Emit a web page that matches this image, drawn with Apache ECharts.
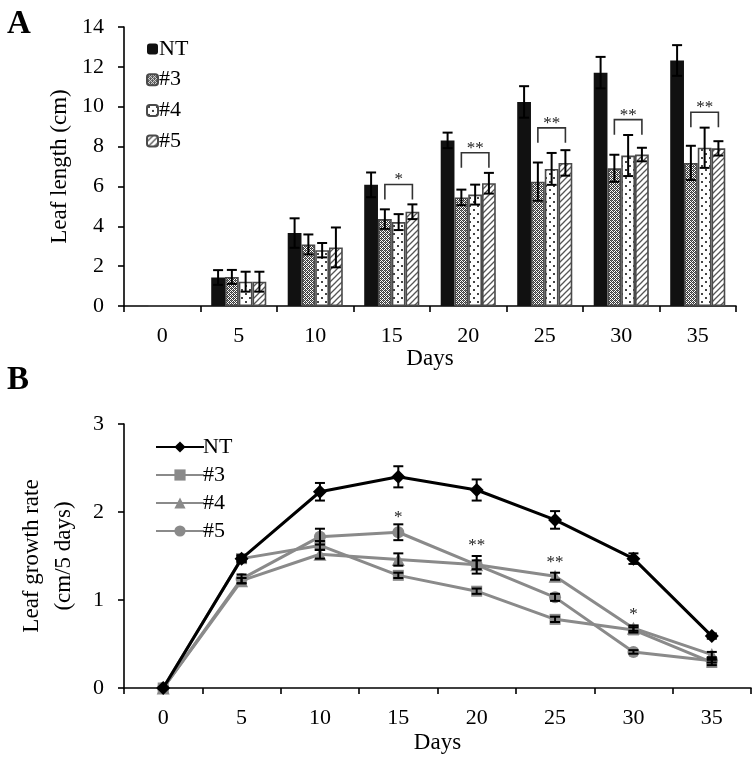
<!DOCTYPE html>
<html>
<head>
<meta charset="utf-8">
<script src="https://cdn.jsdelivr.net/npm/echarts@6/dist/echarts.min.js"></script>
<style>
html,body{margin:0;padding:0;background:#fff;}
#chart{width:755px;height:759px;}
</style>
</head>
<body>
<div id="chart"></div>
<script>
// ---------- data ----------
const days = ['0','5','10','15','20','25','30','35'];
const seriesNames = ['NT','#3','#4','#5'];

// Panel A: leaf length (cm)
const lenNT   = [0, 1.43, 3.66, 6.08, 8.31, 10.24, 11.71, 12.32];
const lenNTsd = [0, 0.37, 0.74, 0.62, 0.39, 0.79, 0.79, 0.77];
const len3    = [0, 1.46, 3.09, 4.36, 5.45, 6.24, 6.91, 7.18];
const len3sd  = [0, 0.35, 0.50, 0.49, 0.39, 0.96, 0.68, 0.86];
const len4    = [0, 1.22, 2.80, 4.21, 5.59, 6.88, 7.55, 7.94];
const len4sd  = [0, 0.50, 0.36, 0.40, 0.50, 0.80, 1.03, 1.01];
const len5    = [0, 1.22, 2.94, 4.73, 6.16, 7.18, 7.60, 7.91];
const len5sd  = [0, 0.50, 1.00, 0.37, 0.52, 0.64, 0.34, 0.36];
const sigDaysA = ['15','20','25','30','35'];
const sigTopA  = [6.10, 7.69, 8.94, 9.35, 9.72];
const sigTextA = ['*','**','**','**','**'];
const yTicksA = [0, 14, 2]; // min, max, interval

// Panel B: leaf growth rate (cm/5 days)
const rateNT   = [0, 1.47, 2.23, 2.40, 2.25, 1.91, 1.47, 0.59];
const rateNTsd = [0, 0.04, 0.10, 0.12, 0.12, 0.10, 0.06, 0.03];
const rate3    = [0, 1.47, 1.62, 1.28, 1.10, 0.78, 0.66, 0.29];
const rate3sd  = [0, 0.03, 0.05, 0.03, 0.03, 0.03, 0.03, 0.03];
const rate4    = [0, 1.22, 1.52, 1.46, 1.40, 1.27, 0.68, 0.38];
const rate4sd  = [0, 0.03, 0.05, 0.07, 0.05, 0.04, 0.03, 0.03];
const rate5    = [0, 1.24, 1.72, 1.77, 1.40, 1.03, 0.41, 0.31];
const rate5sd  = [0, 0.05, 0.09, 0.09, 0.10, 0.04, 0.02, 0.02];
const sigDaysB = ['15','20','25','30'];
const sigPosB  = [1.98, 1.66, 1.46, 0.87];
const sigTextB = ['*','**','**','*'];
const yTicksB = [0, 3, 1];

// ---------- patterns ----------
function makePattern(kind){
  const c = document.createElement('canvas');
  const ctx = c.getContext('2d');
  if(kind==='checker'){
    c.width=4;c.height=4;
    ctx.fillStyle='#ffffff';ctx.fillRect(0,0,4,4);
    ctx.fillStyle='#3a3a3a';
    for(let y=0;y<4;y++)for(let x=0;x<4;x++){ if((x+y)%2===0) ctx.fillRect(x,y,1,1); }
    ctx.fillStyle='#777';ctx.fillRect(1,2,1,1);ctx.fillRect(3,0,1,1);
  } else if(kind==='dots'){
    c.width=8;c.height=8;
    ctx.fillStyle='#ffffff';ctx.fillRect(0,0,8,8);
    ctx.fillStyle='#444';
    ctx.fillRect(1,1,2,2);ctx.fillRect(5,5,2,2);
  } else if(kind==='diag'){
    c.width=6;c.height=6;
    ctx.fillStyle='#ffffff';ctx.fillRect(0,0,6,6);
    ctx.strokeStyle='#555';ctx.lineWidth=1.3;
    ctx.beginPath();
    ctx.moveTo(-1,7);ctx.lineTo(7,-1);
    ctx.moveTo(-4,4);ctx.lineTo(4,-4);
    ctx.moveTo(2,10);ctx.lineTo(10,2);
    ctx.stroke();
  }
  return {image:c, repeat:'repeat'};
}
const fillsA = ['#111111', makePattern('checker'), makePattern('dots'), makePattern('diag')];
const bordersA = ['#111111','#4a4a4a','#4a4a4a','#4a4a4a'];

const FONT = 'Liberation Serif';
const BAR_W = 0.18;
const GREY = '#8a8a8a';

// ---------- helpers ----------
function errData(vals, sds){
  return vals.map((v,i)=>[i, v, sds[i]]).filter(d=>d[1]>0);
}
function errRender(offsetFrac, cap){
  return function(params, api){
    const idx = api.value(0), v = api.value(1), sd = api.value(2);
    const bw = api.size([1,0])[0];
    const x = api.coord([idx, v])[0] + offsetFrac*bw;
    const yt = api.coord([idx, v+sd])[1];
    const yb = api.coord([idx, v-sd])[1];
    const st = {stroke:'#000', lineWidth:2, fill:null};
    return {type:'group', children:[
      {type:'line', shape:{x1:x,y1:yt,x2:x,y2:yb}, style:st},
      {type:'line', shape:{x1:x-cap,y1:yt,x2:x+cap,y2:yt}, style:st},
      {type:'line', shape:{x1:x-cap,y1:yb,x2:x+cap,y2:yb}, style:st}
    ]};
  };
}

const lenVals = [lenNT,len3,len4,len5];
const lenSds = [lenNTsd,len3sd,len4sd,len5sd];
const rateVals = [rateNT,rate3,rate4,rate5];
const rateSds = [rateNTsd,rate3sd,rate4sd,rate5sd];
const lineSymbols = ['diamond','rect','triangle','circle'];
const lineSymSize = [14,11,13,12];
const lineColors = ['#000000',GREY,GREY,GREY];

const series = [];
// Panel A bars
seriesNames.forEach((n,i)=>{
  series.push({
    name:n, type:'bar', xAxisIndex:0, yAxisIndex:0,
    data: lenVals[i], barWidth: (BAR_W*100)+'%', barGap:'0%',
    itemStyle:{color:fillsA[i], borderColor:bordersA[i], borderWidth: i===0?0:1.6},
    z:2
  });
});
// Panel A error bars
seriesNames.forEach((n,i)=>{
  series.push({
    type:'custom', xAxisIndex:0, yAxisIndex:0, z:5,
    data: errData(lenVals[i], lenSds[i]),
    renderItem: errRender((i-1.5)*BAR_W, 5),
    silent:true
  });
});
// Panel A significance brackets
series.push({
  type:'custom', xAxisIndex:0, yAxisIndex:0, z:6, silent:true,
  data: sigDaysA.map((d,i)=>[days.indexOf(d), sigTopA[i]]),
  renderItem: function(params, api){
    const idx = api.value(0), top = api.value(1);
    const txt = sigTextA[params.dataIndex];
    const bw = api.size([1,0])[0];
    const cx = api.coord([idx, top])[0];
    const y = api.coord([idx, top])[1];
    const x3 = cx + (-0.5)*BAR_W*bw, x5 = cx + 1.5*BAR_W*bw;
    return {type:'group', children:[
      {type:'polyline', shape:{points:[[x3,y+15],[x3,y],[x5,y],[x5,y+15]]},
       style:{stroke:'#333', lineWidth:1.6, fill:null}},
      {type:'text', style:{text:txt, x:(x3+x5)/2, y:y-13, align:'center', verticalAlign:'top',
        font:'17px "'+FONT+'"', fill:'#222'}}
    ]};
  }
});
// Panel B lines
seriesNames.forEach((n,i)=>{
  series.push({
    name:'B-'+n, type:'line', xAxisIndex:1, yAxisIndex:1,
    data: rateVals[i], symbol: lineSymbols[i], symbolSize: lineSymSize[i],
    lineStyle:{color:lineColors[i], width:3},
    itemStyle:{color:lineColors[i]},
    z: i===0?4:3 - i*0.1
  });
});
// Panel B error bars
seriesNames.forEach((n,i)=>{
  series.push({
    type:'custom', xAxisIndex:1, yAxisIndex:1, z:5, silent:true,
    data: errData(rateVals[i], rateSds[i]),
    renderItem: errRender(0, 5)
  });
});
// Panel B significance stars
series.push({
  type:'custom', xAxisIndex:1, yAxisIndex:1, z:6, silent:true,
  data: sigDaysB.map((d,i)=>[days.indexOf(d), sigPosB[i]]),
  renderItem: function(params, api){
    const p = api.coord([api.value(0), api.value(1)]);
    return {type:'text', style:{text:sigTextB[params.dataIndex], x:p[0], y:p[1]-5, align:'center',
      verticalAlign:'top', font:'17px "'+FONT+'"', fill:'#222'}};
  }
});

const axisLineStyle = {color:'#000', width:1.6};
const labelStyle = {fontFamily:FONT, fontSize:22, color:'#000'};

const option = {
  animation:false,
  backgroundColor:'#fff',
  textStyle:{fontFamily:FONT},
  title:[
    {text:'A', left:2, top:3, textStyle:{fontFamily:FONT, fontSize:33, fontWeight:'bold', color:'#000'}},
    {text:'B', left:2, top:359, textStyle:{fontFamily:FONT, fontSize:33, fontWeight:'bold', color:'#000'}}
  ],
  legend:[
    {data:seriesNames, orient:'vertical', left:141, top:33, itemWidth:11, itemHeight:11, itemGap:8.7,
     textStyle:{fontFamily:FONT, fontSize:22, color:'#000', padding:[0,0,0,-4]}, selectedMode:false},
    {data:seriesNames.map(n=>'B-'+n), orient:'vertical', left:150, top:431, itemWidth:48, itemHeight:14, itemGap:6,
     formatter: n=>n.replace('B-',''),
     textStyle:{fontFamily:FONT, fontSize:22, color:'#000', padding:[0,0,0,-6]}, selectedMode:false}
  ],
  grid:[
    {left:124, top:27, width:612, height:279},
    {left:124, top:424, width:627, height:264}
  ],
  xAxis:[
    {type:'category', gridIndex:0, data:days,
     axisLine:{lineStyle:axisLineStyle}, axisTick:{show:true, length:6, lineStyle:axisLineStyle},
     axisLabel:{...labelStyle, margin:19},
     name:'Days', nameLocation:'middle', nameGap:37,
     nameTextStyle:{fontFamily:FONT, fontSize:23, color:'#000'}},
    {type:'category', gridIndex:1, data:days,
     axisLine:{lineStyle:axisLineStyle}, axisTick:{show:true, length:6, lineStyle:axisLineStyle},
     axisLabel:{...labelStyle, margin:19},
     name:'Days', nameLocation:'middle', nameGap:43,
     nameTextStyle:{fontFamily:FONT, fontSize:23, color:'#000'}}
  ],
  yAxis:[
    {type:'value', gridIndex:0, min:yTicksA[0], max:yTicksA[1], interval:yTicksA[2],
     axisLine:{show:true, lineStyle:axisLineStyle}, axisTick:{show:true, length:6, lineStyle:axisLineStyle},
     splitLine:{show:false}, axisLabel:{...labelStyle, margin:20},
     name:'Leaf length (cm)', nameLocation:'middle', nameGap:53,
     nameTextStyle:{fontFamily:FONT, fontSize:23, color:'#000'}},
    {type:'value', gridIndex:1, min:yTicksB[0], max:yTicksB[1], interval:yTicksB[2],
     axisLine:{show:true, lineStyle:axisLineStyle}, axisTick:{show:true, length:6, lineStyle:axisLineStyle},
     splitLine:{show:false}, axisLabel:{...labelStyle, margin:20},
     name:'Leaf growth rate\n(cm/5 days)', nameLocation:'middle', nameGap:44,
     nameTextStyle:{fontFamily:FONT, fontSize:23, color:'#000', lineHeight:32}}
  ],
  series: series
};

const chart = echarts.init(document.getElementById('chart'), null, {renderer:'canvas'});
chart.setOption(option);
</script>
</body>
</html>
